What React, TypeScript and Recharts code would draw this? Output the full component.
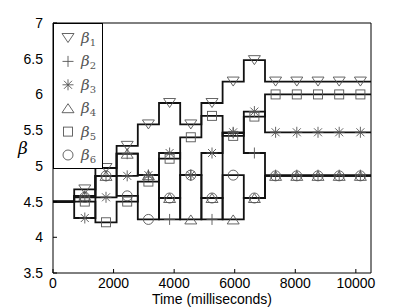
import React from "react";
import { ComposedChart, Line, Scatter, XAxis, YAxis } from "recharts";

// step edges (ms) and the times where markers sit (middle of each step)
const stepTimes = [0, 700, 1400, 2100, 2800, 3500, 4200, 4900, 5600, 6300, 7000, 10500];
const markerTimes = [1050, 1750, 2450, 3150, 3850, 4550, 5250, 5950, 6650, 7350, 8050, 8750, 9450, 10150];
const xTicks = [0, 2000, 4000, 6000, 8000, 10000];
const yTicks = [3.5, 4, 4.5, 5, 5.5, 6, 6.5, 7];

// one value per step interval (last one holds to the end)
const beta1 = [4.5, 4.67, 4.97, 5.28, 5.58, 5.88, 5.58, 5.88, 6.18, 6.48, 6.18];
const beta2 = [4.5, 4.58, 4.86, 5.17, 4.87, 4.25, 4.87, 4.25, 5.46, 5.18, 4.87];
const beta3 = [4.5, 4.27, 4.56, 4.86, 4.87, 5.18, 4.87, 5.18, 5.47, 5.76, 5.47];
const beta4 = [4.5, 4.58, 4.86, 5.17, 4.87, 4.55, 4.25, 4.55, 4.25, 4.55, 4.86];
const beta5 = [4.5, 4.5, 4.21, 4.5, 4.78, 5.1, 5.4, 5.7, 5.42, 5.69, 6.0];
const beta6 = [4.5, 4.56, 4.86, 4.58, 4.25, 4.55, 4.87, 4.55, 4.87, 4.55, 4.86];

const series = [
  { id: "1", values: beta1, marker: "triDown" },
  { id: "2", values: beta2, marker: "plus" },
  { id: "3", values: beta3, marker: "star" },
  { id: "4", values: beta4, marker: "triUp" },
  { id: "5", values: beta5, marker: "square" },
  { id: "6", values: beta6, marker: "circle" },
];

const MARK = "#555";
const FONT = "'Liberation Sans', Arial, sans-serif";

function stepData(values: number[]) {
  return stepTimes.map((t, i) => ({ t, v: values[Math.min(i, values.length - 1)] }));
}

function markerData(values: number[]) {
  return markerTimes.map((t) => {
    let k = 0;
    while (k + 1 < values.length && stepTimes[k + 1] <= t) k++;
    return { t, v: values[k] };
  });
}

function Marker({ kind, cx, cy }: { kind: string; cx: number; cy: number }) {
  const s = { fill: "none", stroke: MARK, strokeWidth: 0.9 };
  switch (kind) {
    case "triDown":
      return <polygon points={`${cx - 6},${cy - 4.5} ${cx + 6},${cy - 4.5} ${cx},${cy + 4.5}`} {...s} />;
    case "triUp":
      return <polygon points={`${cx - 6},${cy + 4.5} ${cx + 6},${cy + 4.5} ${cx},${cy - 4.5}`} {...s} />;
    case "plus":
      return <path d={`M${cx - 5.5},${cy}H${cx + 5.5}M${cx},${cy - 5.5}V${cy + 5.5}`} {...s} />;
    case "star":
      return (
        <path
          d={`M${cx - 5.5},${cy}H${cx + 5.5}M${cx},${cy - 5.5}V${cy + 5.5}M${cx - 4},${cy - 4}L${cx + 4},${cy + 4}M${cx - 4},${cy + 4}L${cx + 4},${cy - 4}`}
          {...s}
        />
      );
    case "square":
      return <rect x={cx - 4.5} y={cy - 4.5} width={9} height={9} {...s} />;
    default:
      return <circle cx={cx} cy={cy} r={5} {...s} />;
  }
}

function LegendBox() {
  return (
    <svg width={50} height={146} style={{ position: "absolute", left: 53, top: 23 }}>
      <rect x={0.5} y={0.5} width={49} height={145} fill="#fff" stroke="#000" strokeWidth={1} />
      {series.map((s, i) => {
        const cy = 15 + i * 23.4;
        return (
          <g key={s.id}>
            <Marker kind={s.marker} cx={15} cy={cy} />
            <text
              x={28}
              y={cy + 5}
              fontFamily="'DejaVu Serif', serif"
              fontStyle="italic"
              fontSize={15}
              fill="#555"
            >
              β
              <tspan fontSize={10} fontStyle="normal" dy={3}>
                {s.id}
              </tspan>
            </text>
          </g>
        );
      })}
    </svg>
  );
}

export default function App() {
  return (
    <div style={{ position: "relative", width: 409, height: 307 }}>
      <style>{`body{margin:0}`}</style>
      <ComposedChart width={409} height={307} margin={{ top: 22, right: 37, bottom: 0, left: 0 }}>
        <XAxis
          dataKey="t"
          type="number"
          domain={[0, 10500]}
          ticks={xTicks}
          height={34}
          tickSize={-4}
          tickMargin={9}
          stroke="#000"
          tick={{ fill: "#000", fontSize: 14, fontFamily: FONT }}
          label={{
            value: "Time (milliseconds)",
            position: "insideBottom",
            offset: 3,
            fill: "#000",
            fontSize: 14,
            fontFamily: FONT,
          }}
        />
        <XAxis
          xAxisId="top"
          dataKey="t"
          orientation="top"
          type="number"
          domain={[0, 10500]}
          ticks={xTicks}
          height={1}
          tickSize={-4}
          tick={false}
          stroke="#000"
        />
        <YAxis
          dataKey="v"
          type="number"
          domain={[3.5, 7]}
          ticks={yTicks}
          width={53}
          tickSize={-4}
          tickMargin={14}
          stroke="#000"
          tick={{ fill: "#000", fontSize: 14, fontFamily: FONT }}
          label={{
            value: "β",
            position: "insideLeft",
            offset: 18,
            fill: "#000",
            fontSize: 17,
            fontStyle: "italic",
            fontFamily: "'DejaVu Serif', serif",
          }}
        />
        <YAxis
          yAxisId="right"
          dataKey="v"
          orientation="right"
          type="number"
          domain={[3.5, 7]}
          ticks={yTicks}
          width={1}
          tickSize={-4}
          tick={false}
          stroke="#000"
        />
        {series.map((s) => (
          <Line
            key={`l${s.id}`}
            xAxisId="top"
            yAxisId="right"
            data={stepData(s.values)}
            dataKey="v"
            type="stepAfter"
            stroke="#111"
            strokeWidth={1.8}
            dot={false}
            activeDot={false}
            isAnimationActive={false}
          />
        ))}
        {series.map((s) => (
          <Scatter
            key={`m${s.id}`}
            data={markerData(s.values)}
            dataKey="v"
            shape={(p: any) => <Marker kind={s.marker} cx={p.cx} cy={p.cy} />}
            isAnimationActive={false}
          />
        ))}
      </ComposedChart>
      <LegendBox />
    </div>
  );
}
